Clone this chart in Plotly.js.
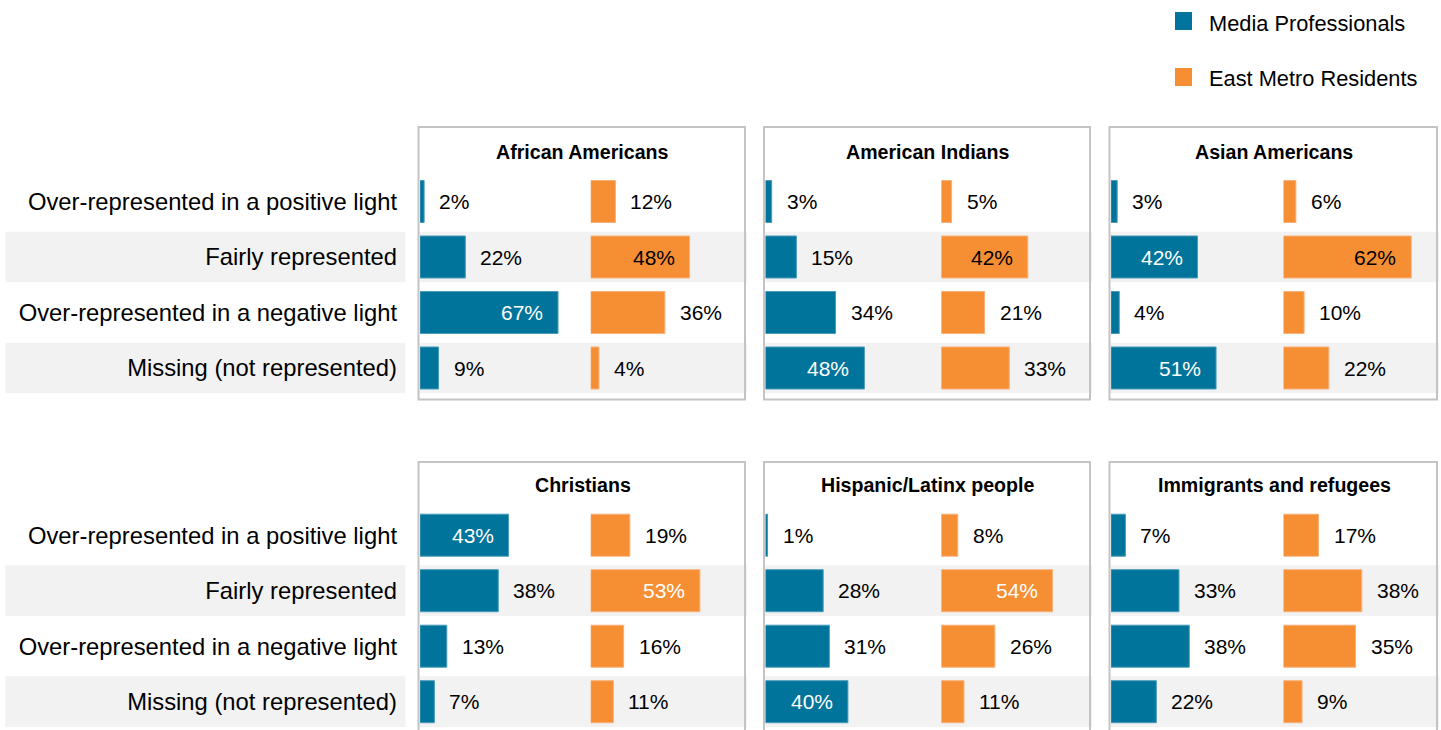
<!DOCTYPE html>
<html><head><meta charset="utf-8">
<script src="https://cdn.plot.ly/plotly-3.0.1.min.js"></script>
<style>html,body{margin:0;padding:0;background:#fff}#chart{width:1441px;height:730px}</style>
</head><body><div id="chart"></div>
<script>
// ---- data ----
const categories = [
  'Over-represented in a positive light',
  'Fairly represented',
  'Over-represented in a negative light',
  'Missing (not represented)'
];
const groups = ['African Americans', 'American Indians', 'Asian Americans',
                'Christians', 'Hispanic/Latinx people', 'Immigrants and refugees'];
const seriesNames = ['Media Professionals', 'East Metro Residents'];
const mediaProfessionals = [
  [2, 22, 67, 9],
  [3, 15, 34, 48],
  [3, 42, 4, 51],
  [43, 38, 13, 7],
  [1, 28, 31, 40],
  [7, 33, 38, 22]
];
const eastMetroResidents = [
  [12, 48, 36, 4],
  [5, 42, 21, 33],
  [6, 62, 10, 22],
  [19, 53, 16, 11],
  [8, 54, 26, 11],
  [17, 38, 35, 9]
];

// ---- styling / layout ----
const W = 1441, H = 730;
const colors = ['#00749A', '#F68E33'];
const lineColors = ['#4a9bbb', '#f8b07a'];
const orangeInsideText = ['#000', '#000', '#000', '#fff', '#fff', '#000'];
const FONT = '"Liberation Sans", Arial, sans-serif';
const panelLeft = [420, 765.5, 1111];
const panelRight = [745, 1090, 1437];
const orangeStart = [590.7, 941.3, 1283.5];
const pxPerPct = 2.06;
const rowTopPx = [173.75, 507.45];
const pitch = 55.5;
const panelTopPx = [127, 462];
const panelBottomPx = [399.5, 760];
const titlePx = [152, 485];

const px2x = p => p / W;
const px2y = p => 1 - p / H;

const data = [];
const layout = {
  width: W, height: H, autosize: false,
  margin: {l: 0, r: 0, t: 0, b: 0},
  paper_bgcolor: '#fff', plot_bgcolor: 'rgba(0,0,0,0)',
  showlegend: false, bargap: 0,
  font: {family: FONT, size: 21, color: '#000'},
  shapes: [], annotations: []
};

// y axes
for (let r = 0; r < 2; r++) {
  const top = rowTopPx[r], bottom = top + pitch * categories.length;
  const name = r === 0 ? 'yaxis' : 'yaxis2';
  layout[name] = {
    domain: [px2y(bottom), px2y(top)],
    type: 'category', categoryorder: 'array', categoryarray: categories,
    range: [categories.length - 0.5, -0.5],
    anchor: r === 0 ? 'x' : 'x7',
    showgrid: false, zeroline: false, showline: false, ticks: '',
    ticklabelstandoff: 22,
    tickfont: {family: FONT, size: 23.8, color: '#000'},
    fixedrange: true
  };
}

groups.forEach((g, p) => {
  const row = Math.floor(p / 3), col = p % 3;
  const yName = row === 0 ? 'y' : 'y2';
  const seriesVals = [mediaProfessionals[p], eastMetroResidents[p]];
  seriesVals.forEach((vals, s) => {
    const k = p * 2 + s + 1;
    const xName = 'x' + (k === 1 ? '' : k);
    const start = s === 0 ? panelLeft[col] : orangeStart[col];
    const end = s === 0 ? orangeStart[col] - 4 : panelRight[col] - 1;
    layout['xaxis' + (k === 1 ? '' : k)] = {
      domain: [px2x(start), px2x(end)],
      range: [0, (end - start) / pxPerPct],
      anchor: yName, visible: false, fixedrange: true
    };
    data.push({
      type: 'bar', orientation: 'h', x: vals, y: categories,
      xaxis: xName, yaxis: yName, width: 0.757,
      marker: {color: colors[s], line: {color: lineColors[s], width: 1}},
      name: seriesNames[s], hoverinfo: 'skip', showlegend: false
    });
    vals.forEach((v, i) => {
      const inside = v >= 40;
      layout.annotations.push({
        xref: xName, yref: yName, x: v, y: categories[i],
        text: v + '%', showarrow: false,
        xanchor: inside ? 'right' : 'left', xshift: inside ? -13 : 13,
        font: {family: FONT, size: 21,
               color: inside ? (s === 0 ? '#fff' : orangeInsideText[p]) : '#000'}
      });
    });
  });

  // panel title
  layout.annotations.push({
    xref: 'paper', yref: 'paper',
    x: px2x((panelLeft[col] + panelRight[col]) / 2), y: px2y(titlePx[row]),
    text: '<b>' + g + '</b>', showarrow: false, xanchor: 'center', yanchor: 'middle',
    font: {family: FONT, size: 19.6, color: '#000'}
  });
  // panel border
  layout.shapes.push({
    type: 'rect', xref: 'paper', yref: 'paper', layer: 'above',
    x0: px2x(panelLeft[col] - 1.5), x1: px2x(panelRight[col]),
    y0: px2y(panelBottomPx[row]), y1: px2y(panelTopPx[row]),
    line: {color: '#c4c4c4', width: 2}, fillcolor: 'rgba(0,0,0,0)'
  });
  // bands inside panel
  categories.forEach((c, i) => {
    if (i % 2 === 1) {
      layout.shapes.push({
        type: 'rect', xref: 'paper', yref: yName, layer: 'below',
        x0: px2x(panelLeft[col] - 1), x1: px2x(panelRight[col] + 2),
        y0: i - 0.457, y1: i + 0.457,
        line: {width: 0}, fillcolor: '#f2f2f2'
      });
    }
  });
});

// bands in label area
['y', 'y2'].forEach(yName => {
  categories.forEach((c, i) => {
    if (i % 2 === 1) {
      layout.shapes.push({
        type: 'rect', xref: 'paper', yref: yName, layer: 'below',
        x0: px2x(5.5), x1: px2x(405.5), y0: i - 0.457, y1: i + 0.457,
        line: {width: 0}, fillcolor: '#f2f2f2'
      });
    }
  });
});

// legend
const legendY = [21, 77];
seriesNames.forEach((n, s) => {
  layout.shapes.push({
    type: 'rect', xref: 'paper', yref: 'paper',
    x0: px2x(1175), x1: px2x(1192), y0: px2y(legendY[s] + 9), y1: px2y(legendY[s] - 9),
    line: {width: 0}, fillcolor: colors[s]
  });
  layout.annotations.push({
    xref: 'paper', yref: 'paper', x: px2x(1207), y: px2y(legendY[s] + 2),
    text: n, showarrow: false, xanchor: 'left', yanchor: 'middle',
    font: {family: FONT, size: 21.8, color: '#000'}
  });
});

Plotly.newPlot('chart', data, layout, {displayModeBar: false, staticPlot: true});
</script>
</body></html>
